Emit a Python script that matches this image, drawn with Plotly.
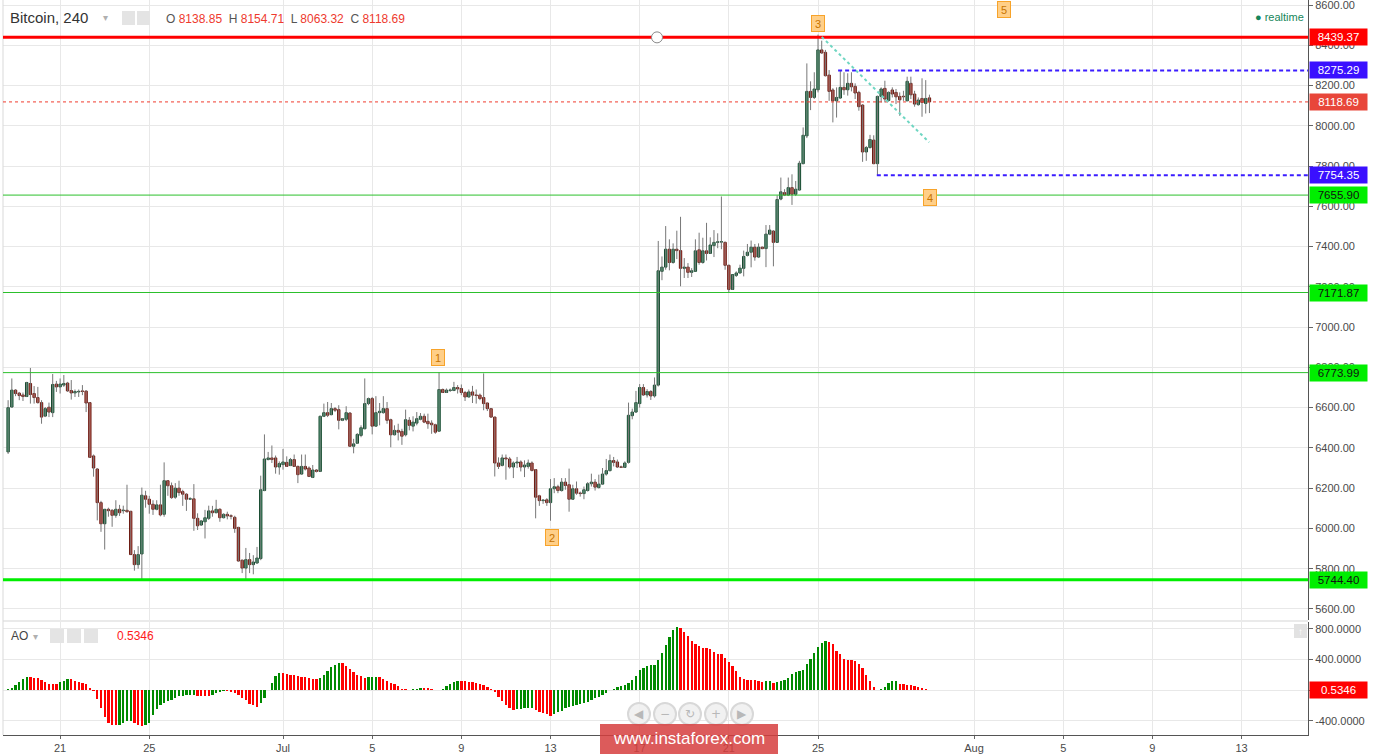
import pandas as pd
import plotly.graph_objects as go

# ---------------- data ----------------
first_candle = "2018-06-18 16:00"

open_ = [6380, 6603, 6687, 6672, 6663, 6655, 6720, 6670, 6650, 6625,
         6558, 6602, 6575, 6717, 6703, 6712, 6722, 6685, 6673, 6678,
         6683, 6682, 6625, 6360, 6295, 6128, 6023, 6095, 6090, 6065,
         6095, 6088, 6090, 6085, 5870, 5820, 5873, 6162, 6145, 6120,
         6095, 6117, 6070, 6237, 6212, 6155, 6200, 6183, 6170, 6145,
         6147, 6050, 6017, 6033, 6050, 6087, 6078, 6095, 6053, 6070,
         6063, 6055, 6005, 5842, 5803, 5845, 5820, 5828, 5850, 6188,
         6342, 6350, 6350, 6305, 6317, 6328, 6312, 6342, 6308, 6270,
         6308, 6300, 6253, 6290, 6283, 6557, 6575, 6565, 6595, 6590,
         6537, 6542, 6573, 6408, 6423, 6462, 6495, 6620, 6645, 6508,
         6575, 6575, 6595, 6540, 6465, 6487, 6482, 6465, 6537, 6508,
         6523, 6542, 6557, 6532, 6523, 6515, 6483, 6690, 6675, 6685,
         6685, 6700, 6695, 6675, 6653, 6678, 6662, 6662, 6650, 6623,
         6595, 6553, 6325, 6313, 6350, 6345, 6305, 6325, 6330, 6305,
         6308, 6325, 6292, 6162, 6138, 6142, 6128, 6197, 6207, 6188,
         6230, 6217, 6145, 6197, 6175, 6173, 6188, 6222, 6230, 6203,
         6220, 6270, 6287, 6337, 6330, 6305, 6303, 6328, 6560, 6578,
         6620, 6700, 6663, 6680, 6658, 6712, 7277, 7298, 7387, 7321,
         7387, 7380, 7292, 7298, 7272, 7277, 7384, 7321, 7379, 7366,
         7405, 7421, 7422, 7421, 7307, 7187, 7257, 7269, 7292, 7356,
         7372, 7397, 7348, 7397, 7390, 7462, 7477, 7421, 7636, 7668,
         7656, 7693, 7660, 7681, 7812, 7950, 8171, 8141, 8179, 8377,
         8365, 8252, 8178, 8124, 8138, 8191, 8179, 8211, 8196, 8166,
         8103, 7870, 7892, 7929, 7812, 8146, 8186, 8126, 8178, 8166,
         8146, 8146, 8124, 8211, 8158, 8105, 8136, 8111, 8138.85]

high_ = [6637, 6745, 6692, 6678, 6675, 6728, 6797, 6707, 6703, 6637,
         6603, 6625, 6767, 6733, 6745, 6762, 6728, 6737, 6690, 6690,
         6712, 6687, 6628, 6367, 6300, 6137, 6095, 6103, 6095, 6140,
         6117, 6113, 6217, 6087, 5892, 5912, 6203, 6187, 6162, 6140,
         6140, 6217, 6328, 6240, 6228, 6225, 6237, 6192, 6175, 6155,
         6220, 6075, 6042, 6092, 6113, 6112, 6142, 6100, 6075, 6083,
         6070, 6063, 6008, 5845, 5903, 5878, 5867, 5908, 6262, 6467,
         6380, 6412, 6362, 6333, 6395, 6358, 6350, 6367, 6312, 6367,
         6367, 6308, 6315, 6295, 6560, 6620, 6628, 6623, 6603, 6612,
         6548, 6607, 6578, 6445, 6473, 6512, 6745, 6650, 6653, 6657,
         6623, 6657, 6628, 6545, 6512, 6520, 6495, 6590, 6553, 6557,
         6578, 6573, 6570, 6570, 6537, 6520, 6777, 6695, 6695, 6695,
         6728, 6712, 6715, 6683, 6690, 6708, 6690, 6670, 6770, 6625,
         6598, 6555, 6353, 6367, 6367, 6355, 6333, 6355, 6338, 6338,
         6342, 6333, 6295, 6167, 6145, 6150, 6245, 6250, 6217, 6250,
         6250, 6297, 6217, 6233, 6183, 6208, 6230, 6272, 6245, 6267,
         6300, 6345, 6367, 6355, 6342, 6312, 6333, 6625, 6595, 6683,
         6717, 6717, 6692, 6687, 6750, 7428, 7351, 7502, 7436, 7416,
         7479, 7548, 7343, 7318, 7293, 7436, 7469, 7444, 7518, 7446,
         7482, 7466, 7649, 7425, 7310, 7261, 7277, 7310, 7380, 7413,
         7430, 7413, 7416, 7400, 7507, 7507, 7482, 7654, 7743, 7685,
         7743, 7759, 7726, 7826, 7992, 8310, 8221, 8266, 8453, 8423,
         8377, 8277, 8187, 8191, 8277, 8266, 8261, 8266, 8211, 8174,
         8108, 7900, 7955, 7953, 8150, 8191, 8224, 8171, 8191, 8183,
         8166, 8174, 8244, 8244, 8174, 8141, 8236, 8227, 8154.71]

low_ = [6370, 6600, 6657, 6637, 6633, 6653, 6620, 6620, 6620, 6520,
        6553, 6553, 6553, 6678, 6670, 6703, 6678, 6640, 6653, 6653,
        6662, 6578, 6350, 6257, 6040, 5983, 5895, 6058, 6008, 6053,
        6062, 6073, 6078, 5870, 5790, 5800, 5745, 6103, 6073, 6067,
        6090, 6060, 6058, 6162, 6147, 6147, 6162, 6112, 6087, 6142,
        5988, 5992, 6012, 5950, 6042, 6058, 6075, 6033, 6050, 6045,
        6045, 5978, 5835, 5778, 5745, 5778, 5772, 5825, 5842, 6185,
        6338, 6325, 6272, 6267, 6292, 6305, 6310, 6305, 6225, 6267,
        6288, 6255, 6250, 6278, 6280, 6553, 6553, 6562, 6578, 6492,
        6533, 6533, 6405, 6373, 6420, 6453, 6493, 6612, 6467, 6505,
        6512, 6570, 6520, 6403, 6462, 6437, 6415, 6457, 6487, 6482,
        6512, 6537, 6523, 6495, 6470, 6470, 6480, 6673, 6673, 6678,
        6682, 6670, 6662, 6633, 6650, 6623, 6620, 6637, 6587, 6583,
        6550, 6258, 6295, 6308, 6242, 6297, 6250, 6300, 6283, 6255,
        6297, 6283, 6050, 6112, 6122, 6112, 6038, 6175, 6175, 6183,
        6192, 6083, 6142, 6167, 6158, 6145, 6183, 6208, 6188, 6198,
        6217, 6262, 6283, 6308, 6300, 6300, 6300, 6322, 6542, 6575,
        6600, 6658, 6650, 6638, 6650, 6705, 7233, 7285, 7282, 7315,
        7338, 7203, 7244, 7244, 7249, 7277, 7310, 7315, 7331, 7364,
        7348, 7392, 7387, 7285, 7172, 7185, 7249, 7266, 7252, 7351,
        7297, 7330, 7343, 7387, 7298, 7457, 7302, 7420, 7630, 7651,
        7651, 7607, 7651, 7678, 7809, 7939, 8078, 8133, 8166, 8357,
        8245, 8124, 8017, 8041, 8133, 8154, 8150, 8171, 8133, 8075,
        7821, 7826, 7887, 7809, 7755, 8116, 8116, 8120, 8141, 8108,
        8050, 8124, 8124, 8133, 8095, 8100, 8045, 8061, 8063.32]

close_ = [6600, 6687, 6670, 6660, 6655, 6725, 6665, 6650, 6625, 6553,
          6595, 6578, 6715, 6703, 6717, 6720, 6683, 6673, 6680, 6680,
          6680, 6623, 6353, 6300, 6128, 6023, 6095, 6088, 6065, 6095,
          6078, 6090, 6083, 5870, 5820, 5870, 6165, 6145, 6120, 6095,
          6117, 6067, 6237, 6212, 6153, 6200, 6178, 6170, 6145, 6148,
          6050, 6013, 6037, 6053, 6087, 6078, 6095, 6053, 6070, 6062,
          6060, 6000, 5838, 5803, 5845, 5820, 5833, 5853, 6192, 6345,
          6350, 6342, 6305, 6322, 6330, 6308, 6342, 6308, 6267, 6308,
          6295, 6258, 6290, 6283, 6557, 6575, 6562, 6595, 6587, 6537,
          6545, 6575, 6408, 6420, 6467, 6500, 6620, 6645, 6508, 6575,
          6582, 6595, 6537, 6465, 6487, 6478, 6458, 6540, 6512, 6528,
          6545, 6557, 6528, 6520, 6515, 6478, 6690, 6675, 6687, 6687,
          6700, 6693, 6675, 6653, 6678, 6662, 6660, 6645, 6620, 6595,
          6553, 6325, 6308, 6350, 6345, 6305, 6325, 6330, 6305, 6315,
          6325, 6288, 6155, 6138, 6140, 6128, 6197, 6207, 6188, 6230,
          6213, 6145, 6197, 6175, 6173, 6192, 6222, 6230, 6205, 6220,
          6270, 6287, 6337, 6328, 6305, 6303, 6325, 6562, 6578, 6625,
          6700, 6663, 6680, 6658, 6712, 7280, 7298, 7387, 7321, 7387,
          7380, 7292, 7298, 7272, 7280, 7379, 7321, 7379, 7366, 7408,
          7421, 7423, 7423, 7307, 7187, 7261, 7269, 7293, 7351, 7372,
          7397, 7348, 7397, 7390, 7462, 7482, 7421, 7634, 7672, 7656,
          7693, 7660, 7685, 7814, 7953, 8171, 8141, 8183, 8377, 8362,
          8249, 8171, 8124, 8141, 8191, 8179, 8211, 8194, 8163, 8095,
          7870, 7892, 7932, 7812, 8146, 8183, 8133, 8166, 8158, 8144,
          8129, 8144, 8221, 8154, 8108, 8128, 8116, 8136, 8118.69]

ao_values = [11, 28, 71, 114, 149, 175, 171, 166, 158, 132,
             106, 84, 83, 82, 106, 123, 149, 148, 119, 110,
             97, 80, 32, -15, -110, -231, -348, -425, -447, -456,
             -447, -425, -404, -400, -425, -456, -460, -447, -421, -326,
             -240, -188, -162, -145, -123, -101, -80, -76, -67, -66,
             -65, -72, -76, -78, -79, -60, -41, -24, -12, -13,
             -16, -32, -67, -101, -132, -175, -197, -218, -166, -97,
             5, 97, 184, 230, 227, 214, 201, 200, 184, 175,
             174, 162, 149, 148, 162, 205, 248, 300, 330, 356,
             352, 313, 279, 235, 201, 184, 162, 171, 172, 179,
             178, 149, 119, 97, 76, 50, 19, 11, 6, 11,
             19, 32, 31, 28, 11, 2, 3, 19, 50, 84,
             114, 123, 122, 119, 114, 106, 93, 80, 65, 39,
             22, -22, -82, -138, -194, -237, -254, -245, -244, -237,
             -236, -235, -254, -280, -297, -310, -331, -310, -288, -267,
             -237, -215, -211, -194, -181, -159, -146, -125, -103, -82,
             -65, -39, 2, 13, 43, 56, 69, 90, 129, 185,
             262, 292, 314, 335, 336, 400, 486, 593, 692, 787,
             821, 813, 765, 710, 649, 606, 572, 555, 546, 538,
             503, 477, 473, 421, 366, 314, 249, 176, 142, 138,
             137, 129, 120, 112, 115, 118, 90, 107, 125, 138,
             163, 219, 241, 249, 271, 344, 409, 486, 563, 615,
             641, 636, 602, 516, 473, 409, 400, 399, 378, 344,
             292, 202, 120, 43, 4, 13, 47, 90, 116, 120,
             86, 77, 65, 64, 56, 43, 34, 13, 0.5346]

tick_dates = ["2018-06-21", "2018-06-25", "2018-07-01", "2018-07-05", "2018-07-09",
              "2018-07-13", "2018-07-17", "2018-07-21", "2018-07-25", "2018-08-01",
              "2018-08-05", "2018-08-09", "2018-08-13"]
tick_text = ["21", "25", "Jul", "5", "9", "13", "17", "21", "25", "Aug", "5", "9", "13"]

price_ticks = [5600, 5800, 6000, 6200, 6400, 6600, 6800, 7000, 7200, 7400,
               7600, 7800, 8000, 8200, 8400, 8600]
ao_ticks = [-400, 0, 400, 800]
ao_tick_text = ["-400.0000", "", "400.0000", "800.0000"]

# horizontal levels drawn on the chart
resistance = 8439.37
support = 5744.40
thin_levels = [7655.90, 7171.87, 6773.99]
last_price = 8118.69
range_high = 8275.29
range_low = 7754.35
range_high_start = "2018-07-25 21:40"
range_low_start = "2018-07-27 15:20"
trend_start = ("2018-07-25 04:00", 8442)
trend_end = ("2018-07-29 23:45", 7918)
handle_time = "2018-07-17 18:40"

wave_labels = ["1", "2", "3", "4", "5"]
wave_times = ["2018-07-07 23:00", "2018-07-13 01:40", "2018-07-25 00:00",
              "2018-07-30 00:45", "2018-08-02 08:30"]
wave_prices = [6847, 5953, 8510, 7646, 8580]

ao_last = 0.5346
ohlc_text = ["8138.85", "8154.71", "8063.32", "8118.69"]

# ---------------- figure ----------------
dates = pd.date_range(first_candle, periods=len(close_), freq="4h")
x_range = ["2018-06-18 10:30", "2018-08-15 23:35"]
FONT = "Liberation Sans, Arial, sans-serif"

W, H = 1377, 754
ML, MR, MT, MB = 3, 69, 0, 19
PW, PH = W - ML - MR, H - MT - MB


def PX(x):
    return (x - ML) / PW


def PY(y):
    return (PH - (y - MT)) / PH


fig = go.Figure()

# wicks
wx, wy = [], []
for t, lo, hi in zip(dates, low_, high_):
    wx += [t, t, None]
    wy += [lo, hi, None]
fig.add_trace(go.Scatter(x=wx, y=wy, mode="lines", line=dict(color="#777777", width=1),
                         hoverinfo="skip", showlegend=False, xaxis="x", yaxis="y"))

# bodies
up_fill, up_line = "#2a9a63", "#184a30"
dn_fill, dn_line = "#e23a2a", "#6a1a12"
base, hgt, fills, lines = [], [], [], []
for o, c in zip(open_, close_):
    lo_b, hi_b = min(o, c), max(o, c)
    base.append(lo_b)
    hgt.append(max(hi_b - lo_b, 3))
    up = c >= o
    fills.append(up_fill if up else dn_fill)
    lines.append(up_line if up else dn_line)
bar_w = 4 * 3600 * 1000 * 0.64
fig.add_trace(go.Bar(x=dates, y=hgt, base=base, width=bar_w,
                     marker=dict(color=fills, line=dict(color=lines, width=1)),
                     hoverinfo="skip", showlegend=False, xaxis="x", yaxis="y"))

# AO histogram
ao_colors = []
for i, v in enumerate(ao_values):
    if i == 0 or v > ao_values[i - 1]:
        ao_colors.append("#008a00")
    else:
        ao_colors.append("#ff0000")
fig.add_trace(go.Bar(x=dates, y=ao_values, width=4 * 3600 * 1000 * 0.62,
                     marker=dict(color=ao_colors, line=dict(width=0)),
                     hoverinfo="skip", showlegend=False, xaxis="x2", yaxis="y2"))

grid = "#e8e8e8"
axis_font = dict(family=FONT, size=11, color="#4a4a4a")

fig.update_layout(
    width=W, height=H,
    margin=dict(l=ML, r=MR, t=MT, b=MB),
    paper_bgcolor="white", plot_bgcolor="white",
    barmode="overlay", bargap=0,
    showlegend=False,
    font=dict(family=FONT),
    xaxis=dict(domain=[0, 1], anchor="y", type="date", range=x_range,
               tickvals=tick_dates, showticklabels=False, ticks="",
               showgrid=True, gridcolor=grid, zeroline=False, showline=False),
    xaxis2=dict(domain=[0, 1], anchor="y2", type="date", range=x_range, matches="x",
                tickvals=tick_dates, ticktext=tick_text, ticks="outside", ticklen=3,
                tickcolor="#666", tickfont=axis_font,
                showgrid=True, gridcolor=grid, zeroline=False,
                showline=True, linecolor="#555", linewidth=1),
    yaxis=dict(domain=[(PH - 620) / PH, 1], anchor="x", side="right",
               range=[5545, 8625], tickvals=price_ticks, tickformat=".2f",
               ticks="outside", ticklen=4, tickcolor="#666", tickfont=axis_font,
               ticklabeloverflow="allow",
               showgrid=True, gridcolor=grid, zeroline=False,
               showline=True, linecolor="#555", linewidth=1),
    yaxis2=dict(domain=[0, (PH - 622) / PH], anchor="x2", side="right",
                range=[-583, 891], tickvals=ao_ticks, ticktext=ao_tick_text,
                ticks="outside", ticklen=4, tickcolor="#666", tickfont=axis_font,
                ticklabeloverflow="allow",
                showgrid=True, gridcolor=grid, zeroline=False,
                showline=True, linecolor="#555", linewidth=1),
)

shapes = []
# pane separator and left border
shapes.append(dict(type="line", xref="paper", yref="paper", x0=0, x1=1,
                   y0=PY(621), y1=PY(621), line=dict(color="#d5d5d5", width=1)))
shapes.append(dict(type="line", xref="paper", yref="paper", x0=0, x1=0,
                   y0=0, y1=1, line=dict(color="#d9d9d9", width=1)))
# thin green levels
for lv in thin_levels:
    shapes.append(dict(type="line", xref="paper", yref="y", x0=0, x1=1, y0=lv, y1=lv,
                       line=dict(color="#2cc02c", width=1)))
# last price dotted
shapes.append(dict(type="line", xref="paper", yref="y", x0=0, x1=1, y0=last_price, y1=last_price,
                   line=dict(color="#f03c2e", width=1, dash="dot")))
# main support / resistance
shapes.append(dict(type="line", xref="paper", yref="y", x0=0, x1=1, y0=resistance, y1=resistance,
                   line=dict(color="#ff0000", width=3)))
shapes.append(dict(type="line", xref="paper", yref="y", x0=0, x1=1, y0=support, y1=support,
                   line=dict(color="#00ee00", width=3)))
# blue dashed range lines
for lv, st in [(range_high, range_high_start), (range_low, range_low_start)]:
    shapes.append(dict(type="line", xref="x", yref="y", x0=st, x1=x_range[1], y0=lv, y1=lv,
                       line=dict(color="#3a1cff", width=2, dash="4px,3px")))
# trend line
shapes.append(dict(type="line", xref="x", yref="y", x0=trend_start[0], y0=trend_start[1],
                   x1=trend_end[0], y1=trend_end[1],
                   line=dict(color="#6fd6c2", width=2, dash="dot")))
# drawing handle on resistance line
shapes.append(dict(type="circle", xref="x", yref="y", xsizemode="pixel", ysizemode="pixel",
                   xanchor=handle_time, yanchor=resistance, x0=-5.5, x1=5.5, y0=-5.5, y1=5.5,
                   fillcolor="white", line=dict(color="#8a8a8a", width=1)))
# header icon boxes
for x0 in [122, 137]:
    shapes.append(dict(type="rect", xref="paper", yref="paper", x0=PX(x0), x1=PX(x0 + 13),
                       y0=PY(25), y1=PY(11), fillcolor="#e4e4e4", line=dict(width=0)))
for x0 in [50, 67, 84]:
    shapes.append(dict(type="rect", xref="paper", yref="paper", x0=PX(x0), x1=PX(x0 + 14),
                       y0=PY(643), y1=PY(629), fillcolor="#e4e4e4", line=dict(width=0)))
# up-arrow box in AO pane
shapes.append(dict(type="rect", xref="paper", yref="paper", x0=PX(1294), x1=PX(1307),
                   y0=PY(638), y1=PY(624), fillcolor="#e2e2e2", line=dict(width=0)))
# navigation buttons
for cx in [639, 665, 690, 716, 742]:
    shapes.append(dict(type="circle", xref="paper", yref="paper", xsizemode="pixel",
                       ysizemode="pixel", xanchor=PX(cx), yanchor=PY(714),
                       x0=-11, x1=11, y0=-11, y1=11,
                       fillcolor="rgba(240,240,240,0.9)", line=dict(color="#d8d8d8", width=2)))
# watermark box
shapes.append(dict(type="rect", xref="paper", yref="paper", x0=PX(600), x1=PX(778),
                   y0=PY(754), y1=PY(724), fillcolor="rgba(214,62,62,0.85)", line=dict(width=0)))
fig.update_layout(shapes=shapes)

ann = []


def tag(y, text, bg, fg, yref="y"):
    ann.append(dict(xref="paper", yref=yref, x=1, xshift=1, y=y, xanchor="left", yanchor="middle",
                    text=text, showarrow=False, bgcolor=bg, width=55, height=14,
                    font=dict(family=FONT, size=11.5, color=fg), align="center"))


tag(resistance, f"{resistance:.2f}", "#ff0000", "white")
tag(range_high, f"{range_high:.2f}", "#3a10ff", "white")
tag(last_price, f"{last_price:.2f}", "#e8463a", "white")
tag(range_low, f"{range_low:.2f}", "#3a10ff", "white")
for lv in thin_levels:
    tag(lv, f"{lv:.2f}", "#00ee00", "#111")
tag(support, f"{support:.2f}", "#00ee00", "#111")
tag(ao_last, f"{ao_last:.4f}", "#ff0000", "white", yref="y2")

# Elliott wave labels
for lab, t, p in zip(wave_labels, wave_times, wave_prices):
    ann.append(dict(xref="x", yref="y", x=t, y=p, text=lab, showarrow=False,
                    bgcolor="#ffcf88", bordercolor="#f7a32a", borderwidth=1, borderpad=1,
                    width=10, height=13, font=dict(family=FONT, size=11, color="#c77400")))

# header texts
ann.append(dict(xref="paper", yref="paper", x=PX(8), y=PY(18), xanchor="left", yanchor="middle",
                text="Bitcoin, 240", showarrow=False, font=dict(family=FONT, size=15, color="#333")))
ann.append(dict(xref="paper", yref="paper", x=PX(101), y=PY(18), xanchor="left", yanchor="middle",
                text="▾", showarrow=False, font=dict(family=FONT, size=10, color="#b0b0b0")))
red = "#ee3a2e"
ohlc_html = (f"O <span style='color:{red}'>{ohlc_text[0]}</span>  "
             f"H <span style='color:{red}'>{ohlc_text[1]}</span>  "
             f"L <span style='color:{red}'>{ohlc_text[2]}</span>  "
             f"C <span style='color:{red}'>{ohlc_text[3]}</span>")
ann.append(dict(xref="paper", yref="paper", x=PX(164), y=PY(19), xanchor="left", yanchor="middle",
                text=ohlc_html, showarrow=False, font=dict(family=FONT, size=12, color="#555")))
ann.append(dict(xref="paper", yref="paper", x=PX(1253), y=PY(17), xanchor="left", yanchor="middle",
                text="● realtime", showarrow=False, font=dict(family=FONT, size=11, color="#16865a")))
ann.append(dict(xref="paper", yref="paper", x=PX(9), y=PY(636), xanchor="left", yanchor="middle",
                text="AO", showarrow=False, font=dict(family=FONT, size=12, color="#444")))
ann.append(dict(xref="paper", yref="paper", x=PX(31), y=PY(636), xanchor="left", yanchor="middle",
                text="▾", showarrow=False, font=dict(family=FONT, size=10, color="#b0b0b0")))
ann.append(dict(xref="paper", yref="paper", x=PX(115), y=PY(636), xanchor="left", yanchor="middle",
                text=f"{ao_last:.4f}", showarrow=False, font=dict(family=FONT, size=12, color="#ff1a1a")))
ann.append(dict(xref="paper", yref="paper", x=PX(1300.5), y=PY(631), xanchor="center", yanchor="middle",
                text="↑", showarrow=False, font=dict(family=FONT, size=10, color="white")))
for cx, sym in zip([639, 665, 690, 716, 742], ["◀", "−", "↻", "+", "▶"]):
    ann.append(dict(xref="paper", yref="paper", x=PX(cx), y=PY(714), xanchor="center",
                    yanchor="middle", text=sym, showarrow=False,
                    font=dict(family="DejaVu Sans", size=12, color="#b8b8b8")))
ann.append(dict(xref="paper", yref="paper", x=PX(689), y=PY(739), xanchor="center", yanchor="middle",
                text="www.instaforex.com", showarrow=False,
                font=dict(family="Liberation Sans Narrow, Liberation Sans", size=17, color="white")))
fig.update_layout(annotations=ann)

fig.write_html("out.html",
               config={"displayModeBar": False, "staticPlot": True},
               post_script="document.body.style.margin='0';document.body.style.padding='0';"
                           "document.body.style.overflow='hidden';")
